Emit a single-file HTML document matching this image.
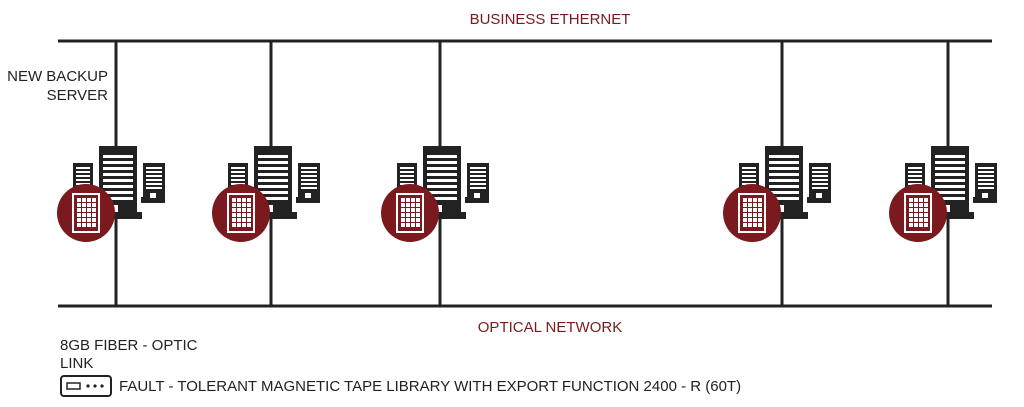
<!DOCTYPE html>
<html><head><style>
html,body{margin:0;padding:0;background:#fff;}
svg{display:block;}
text{font-family:"Liberation Sans",Arial,sans-serif;}
</style></head><body>
<svg width="1024" height="407" viewBox="0 0 1024 407" xmlns="http://www.w3.org/2000/svg">
<defs>
<g id="c">
  <line x1="0" y1="41" x2="0" y2="306" stroke="#222" stroke-width="3"/>
  <rect x="-43" y="163" width="20" height="40" fill="#222"/>
  <g fill="#fff">
    <rect x="-40" y="167" width="14" height="2"/><rect x="-40" y="171" width="14" height="2"/>
    <rect x="-40" y="175" width="14" height="2"/><rect x="-40" y="179" width="14" height="2"/>
    <rect x="-40" y="183" width="14" height="2"/><rect x="-40" y="187" width="14" height="2"/>
  </g>
  <rect x="27" y="163" width="22" height="35" fill="#222"/>
  <rect x="25" y="197" width="24" height="6" fill="#222"/>
  <g fill="#fff">
    <rect x="30" y="167" width="16" height="2"/><rect x="30" y="171" width="16" height="2"/>
    <rect x="30" y="175" width="16" height="2"/><rect x="30" y="179" width="16" height="2"/>
    <rect x="30" y="183" width="16" height="2"/><rect x="30" y="187" width="16" height="2"/>
    <rect x="34" y="193" width="6" height="5"/>
  </g>
  <rect x="-17" y="146" width="38" height="70" fill="#222"/>
  <rect x="-17" y="212" width="43" height="7" fill="#222"/>
  <g fill="#fff">
    <rect x="-13" y="155" width="30" height="3"/><rect x="-13" y="161" width="30" height="3"/>
    <rect x="-13" y="167" width="30" height="3"/><rect x="-13" y="173" width="30" height="3"/>
    <rect x="-13" y="179" width="30" height="3"/><rect x="-13" y="185" width="30" height="3"/>
    <rect x="-13" y="191" width="30" height="3"/><rect x="-13" y="197" width="30" height="3"/>
    <rect x="-6" y="205" width="8" height="7"/>
  </g>
  <circle cx="-30" cy="213" r="29" fill="#7a1a1e"/>
  <rect x="-43" y="194" width="26" height="38" fill="none" stroke="#fff" stroke-width="2"/>
  <g fill="#fff">
    <rect x="-39" y="198" width="4" height="4"/><rect x="-34" y="198" width="4" height="4"/><rect x="-29" y="198" width="4" height="4"/><rect x="-24" y="198" width="4" height="4"/>
    <rect x="-39" y="203" width="4" height="4"/><rect x="-34" y="203" width="4" height="4"/><rect x="-29" y="203" width="4" height="4"/><rect x="-24" y="203" width="4" height="4"/>
    <rect x="-39" y="208" width="4" height="4"/><rect x="-34" y="208" width="4" height="4"/><rect x="-29" y="208" width="4" height="4"/><rect x="-24" y="208" width="4" height="4"/>
    <rect x="-39" y="213" width="4" height="4"/><rect x="-34" y="213" width="4" height="4"/><rect x="-29" y="213" width="4" height="4"/><rect x="-24" y="213" width="4" height="4"/>
    <rect x="-39" y="218" width="4" height="4"/><rect x="-34" y="218" width="4" height="4"/><rect x="-29" y="218" width="4" height="4"/><rect x="-24" y="218" width="4" height="4"/>
    <rect x="-39" y="223" width="4" height="4"/><rect x="-34" y="223" width="4" height="4"/><rect x="-29" y="223" width="4" height="4"/><rect x="-24" y="223" width="4" height="4"/>
  </g>
</g>
</defs>
<line x1="58" y1="41" x2="992" y2="41" stroke="#222" stroke-width="3"/>
<line x1="58" y1="306" x2="992" y2="306" stroke="#222" stroke-width="3"/>
<use href="#c" x="116"/>
<use href="#c" x="271"/>
<use href="#c" x="440"/>
<use href="#c" x="782"/>
<use href="#c" x="948"/>
<text x="550" y="24" font-size="15" fill="#7a1a1e" text-anchor="middle">BUSINESS ETHERNET</text>
<text x="550" y="332" font-size="15" fill="#7a1a1e" text-anchor="middle">OPTICAL NETWORK</text>
<text x="108" y="81" font-size="15" fill="#222" text-anchor="end">NEW BACKUP</text>
<text x="108" y="100" font-size="15" fill="#222" text-anchor="end">SERVER</text>
<text x="60" y="350" font-size="15" fill="#222">8GB FIBER - OPTIC</text>
<text x="60" y="368" font-size="15" fill="#222">LINK</text>
<rect x="61" y="376" width="50" height="20" rx="3" fill="none" stroke="#222" stroke-width="2"/>
<rect x="67" y="383" width="13" height="6" fill="none" stroke="#222" stroke-width="1.5"/>
<circle cx="88" cy="386" r="1.6" fill="#222"/><circle cx="95" cy="386" r="1.6" fill="#222"/><circle cx="102" cy="386" r="1.6" fill="#222"/>
<text x="119" y="391" font-size="15" fill="#222">FAULT - TOLERANT MAGNETIC TAPE LIBRARY WITH EXPORT FUNCTION 2400 - R (60T)</text>
</svg>
</body></html>
